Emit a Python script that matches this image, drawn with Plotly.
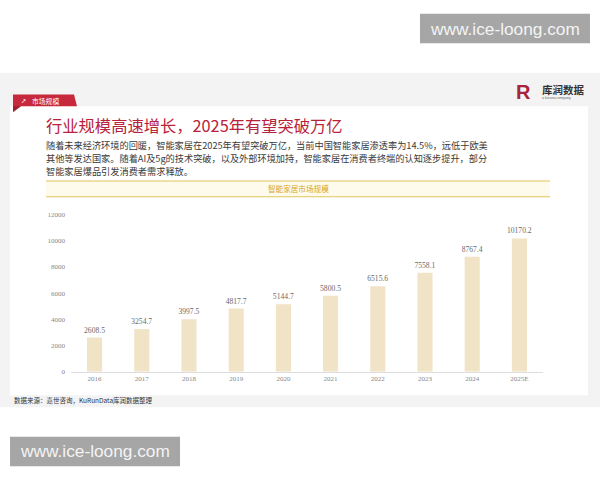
import plotly.graph_objects as go

# ---- data ----
years = ["2016", "2017", "2018", "2019", "2020", "2021", "2022", "2023", "2024", "2025E"]
market_size = [2608.5, 3254.7, 3997.5, 4817.7, 5144.7, 5800.5, 6515.6, 7558.1, 8767.4, 10170.2]
y_ticks = [0, 2000, 4000, 6000, 8000, 10000, 12000]
y_tick_labels = ["0", "2000", "4000", "6000", "8000", "10000", "12000"]

title_text = "行业规模高速增长，2025年有望突破万亿"
body_lines = [
    "随着未来经济环境的回暖，智能家居在2025年有望突破万亿，当前中国智能家居渗透率为14.5%，远低于欧美",
    "其他等发达国家。随着AI及5g的技术突破，以及外部环境加持，智能家居在消费者终端的认知逐步提升，部分",
    "智能家居爆品引发消费者需求释放。",
]
chart_title = "智能家居市场规模"
source_text = "数据来源：嘉世咨询，KuRunData库润数据整理"
badge_text = "市场规模"
watermark = "www.ice-loong.com"

W, H = 600, 480
def px(x):
    return x / W
def py(y):
    return 1 - y / H

CJK = "Noto Sans CJK SC"
SERIF = "Liberation Serif"

fig = go.Figure()
fig.add_trace(go.Bar(
    x=years, y=market_size,
    marker=dict(color="#f0e3c6", line=dict(width=0)),
    text=[f"{v:.1f}" for v in market_size],
    textposition="outside",
    constraintext="none",
    textfont=dict(family=SERIF, size=7.6, color="#6a6a6a"),
    cliponaxis=False,
    width=0.32,
))

shapes = []
# slide background
shapes.append(dict(type="rect", xref="paper", yref="paper", x0=px(0), x1=px(600), y0=py(410), y1=py(70),
                   fillcolor="#f3f3f3", line=dict(width=0), layer="below"))
# white card
shapes.append(dict(type="rect", xref="paper", yref="paper", x0=px(10), x1=px(588), y0=py(398), y1=py(104),
                   fillcolor="#ffffff", line=dict(width=0), layer="below"))
# red badge tail
shapes.append(dict(type="path", xref="paper", yref="paper",
                   path=f"M {px(13)},{py(95)} L {px(21)},{py(104)} L {px(13)},{py(110)} Z",
                   fillcolor="#a01c2e", line=dict(width=0), layer="below"))
# red badge
shapes.append(dict(type="path", xref="paper", yref="paper",
                   path=f"M {px(13)},{py(92)} L {px(74)},{py(92)} L {px(77)},{py(104)} L {px(13)},{py(104)} Z",
                   fillcolor="#c8283c", line=dict(width=0), layer="below"))
# chart title band
shapes.append(dict(type="rect", xref="paper", yref="paper", x0=px(46), x1=px(550), y0=py(196), y1=py(180),
                   fillcolor="#fffbec", line=dict(width=0), layer="below"))
for yy in (180, 196):
    shapes.append(dict(type="line", xref="paper", yref="paper", x0=px(46), x1=px(550), y0=py(yy), y1=py(yy),
                       line=dict(color="#e2c45a", width=1.2), layer="below"))
# watermark boxes
shapes.append(dict(type="rect", xref="paper", yref="paper", x0=px(420), x1=px(590), y0=py(40), y1=py(10),
                   fillcolor="#a6a6a6", line=dict(width=0), layer="above"))
shapes.append(dict(type="rect", xref="paper", yref="paper", x0=px(10), x1=px(180), y0=py(470), y1=py(440),
                   fillcolor="#a6a6a6", line=dict(width=0), layer="above"))

annotations = []
def add_text(x, y, text, size, color, family=CJK, xanchor="left", bold=False, yanchor="middle"):
    annotations.append(dict(xref="paper", yref="paper", x=px(x), y=py(y), text=(f"<b>{text}</b>" if bold else text),
                            showarrow=False, xanchor=xanchor, yanchor=yanchor, align="left",
                            font=dict(family=family, size=size, color=color)))

add_text(19, 98.5, "➚", 6.5, "#ffffff", family="DejaVu Sans")
add_text(30, 98.5, badge_text, 6.8, "#ffffff")
# logo
add_text(514, 89, "R", 20, "#a8243c", family="Liberation Sans", bold=True)
add_text(540, 87, "库润数据", 10.5, "#333333", bold=True)
add_text(540, 96, "a kuruna company", 3.5, "#666666", family="Liberation Sans")
# title and body
add_text(44, 123, title_text, 16.3, "#b8223a")
for i, line in enumerate(body_lines):
    add_text(44, 143 + i * 13.5, line, 9.2, "#3a3a3a")
add_text(298, 188, chart_title, 7.6, "#d6a520", xanchor="center")
add_text(12, 403, source_text, 6.5, "#333333")
add_text(505, 25, watermark, 17.3, "#f4f4f4", family="Liberation Sans", xanchor="center")
add_text(95, 455, watermark, 17.3, "#f4f4f4", family="Liberation Sans", xanchor="center")

fig.update_layout(
    width=W, height=H,
    margin=dict(l=0, r=0, t=0, b=0),
    paper_bgcolor="#ffffff",
    plot_bgcolor="rgba(0,0,0,0)",
    showlegend=False,
    shapes=shapes,
    annotations=annotations,
    xaxis=dict(domain=[px(71), px(543)], type="category", showgrid=False, zeroline=False,
               showline=True, linecolor="#dddddd", linewidth=1, ticks="",
               tickfont=dict(family=SERIF, size=7, color="#888888")),
    yaxis=dict(domain=[py(374), py(214)], range=[0, 12000], tickvals=y_ticks, ticktext=y_tick_labels,
               showgrid=False, zeroline=False, showline=False, ticks="",
               tickfont=dict(family=SERIF, size=7, color="#888888"), ticklabelstandoff=5),
)

fig.write_html("out.html", config={"displayModeBar": False},
               post_script="document.body.style.margin='0';document.body.style.overflow='hidden';")
